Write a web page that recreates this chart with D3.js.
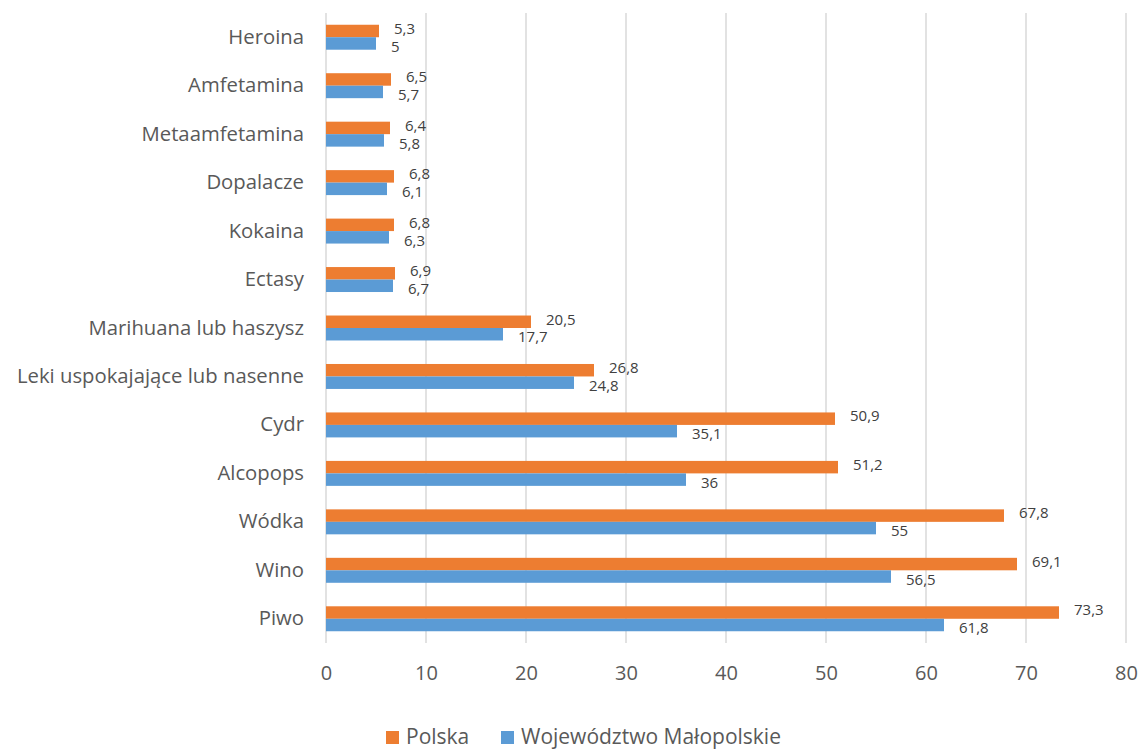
<!DOCTYPE html>
<html><head><meta charset="utf-8">
<script src="https://cdn.jsdelivr.net/npm/d3@7"></script>
<style>body{margin:0;background:#fff;} text{font-family:"Open Sans",sans-serif;}</style>
</head><body>
<svg id="c" width="1140" height="749"></svg>
<script>
const categories = ["Heroina","Amfetamina","Metaamfetamina","Dopalacze","Kokaina","Ectasy","Marihuana lub haszysz","Leki uspokajające lub nasenne","Cydr","Alcopops","Wódka","Wino","Piwo"];
const polska = [5.3,6.5,6.4,6.8,6.8,6.9,20.5,26.8,50.9,51.2,67.8,69.1,73.3];
const malopolskie = [5,5.7,5.8,6.1,6.3,6.7,17.7,24.8,35.1,36,55,56.5,61.8];
const xTicks = [0,10,20,30,40,50,60,70,80];
const seriesNames = ["Polska","Województwo Małopolskie"];
const colors = ["#ED7D31","#5B9BD5"];

const svg = d3.select("#c");
const x = d3.scaleLinear().domain([0,80]).range([326,1126]);
const y = d3.scaleBand().domain(categories).range([13,643]).paddingInner(0.485).paddingOuter(0.2425);
const fmt = v => String(v).replace(".", ",");

// gridlines
svg.append("g").selectAll("line").data(xTicks).join("line")
  .attr("x1", d=>x(d)).attr("x2", d=>x(d)).attr("y1",13).attr("y2",643)
  .attr("stroke","#d9d9d9").attr("stroke-width",1.5);

// x tick labels
const xa = svg.append("g").attr("transform","translate(0,666)")
  .call(d3.axisBottom(x).tickValues(xTicks).tickSize(0).tickPadding(0).tickFormat(d=>d));
xa.select(".domain").remove();
xa.selectAll("text").attr("font-size",20).attr("fill","#595959").attr("font-family","Open Sans").attr("dy","0.71em");

// y labels
const ya = svg.append("g").attr("transform","translate(304,0)")
  .call(d3.axisLeft(y).tickSize(0).tickPadding(0));
ya.select(".domain").remove();
ya.selectAll("text").attr("font-size",20.3).attr("fill","#595959").attr("font-family","Open Sans");

const series = [polska, malopolskie];
const bh = y.bandwidth()/2;
series.forEach((vals,si)=>{
  const g = svg.append("g");
  g.selectAll("rect").data(categories).join("rect")
    .attr("x", x(0)).attr("y", (c)=>y(c)+si*bh)
    .attr("width",(c,i)=>x(vals[i])-x(0)).attr("height",bh)
    .attr("fill",colors[si]);
  g.selectAll("text").data(categories).join("text")
    .attr("x",(c,i)=>x(vals[i])+15)
    .attr("y",(c)=>y(c)+si*bh+bh/2 + (si===0?-2.5:3))
    .attr("dy","0.35em")
    .attr("font-size",15).attr("fill","#404040")
    .text((c,i)=>fmt(vals[i]));
});

// legend
const lg = svg.append("g");
const lx = [386, 501];
seriesNames.forEach((n,i)=>{
  lg.append("rect").attr("x",lx[i]).attr("y",731).attr("width",13).attr("height",13).attr("fill",colors[i]);
  lg.append("text").attr("x",lx[i]+20).attr("y",736.5).attr("dy","0.35em").attr("font-size",21).attr("fill","#595959").text(n);
});
</script>
</body></html>
